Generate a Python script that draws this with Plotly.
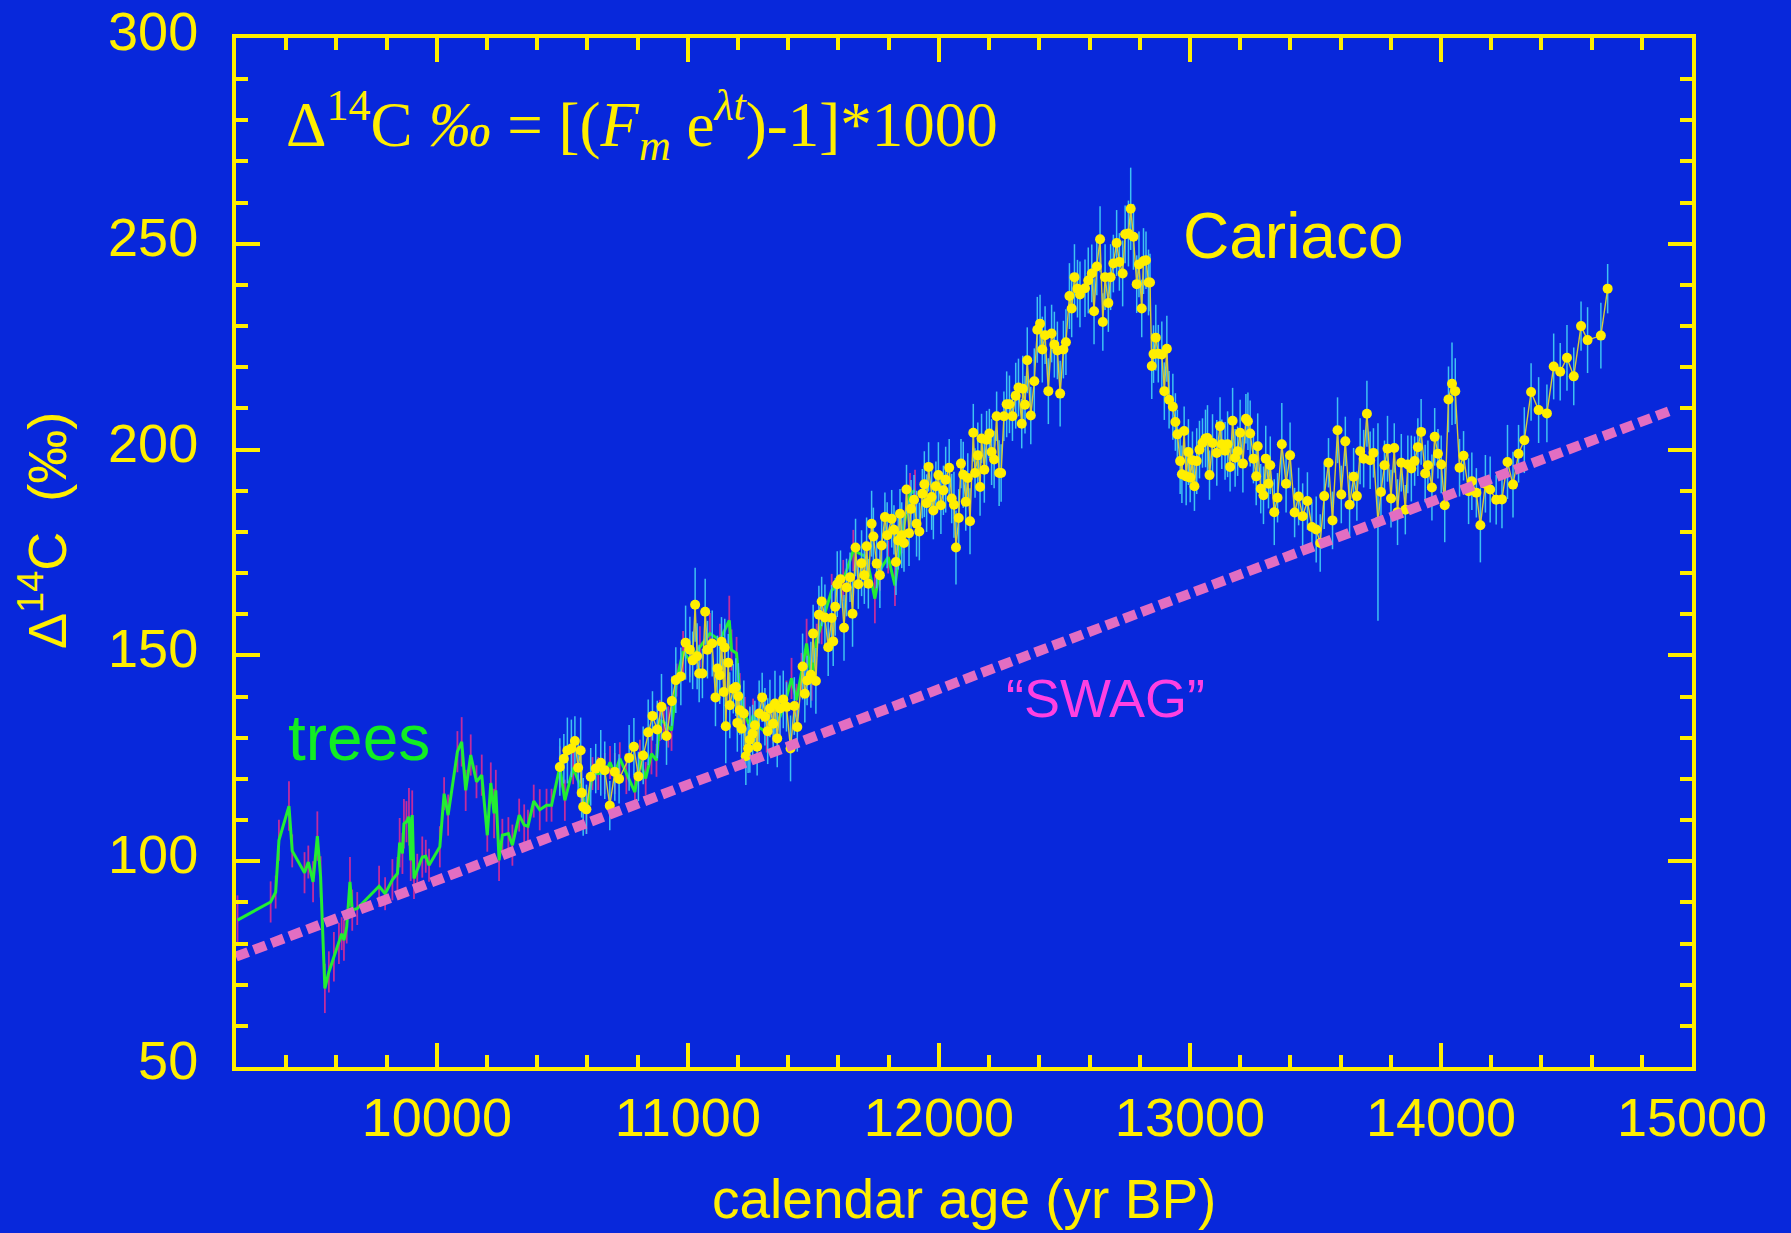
import plotly.graph_objects as go

# ---------------- data ----------------
# Tree-ring record (calendar age, Delta14C permil, 1-sigma)
TREE_AGE = [
    9206, 9338, 9358, 9371, 9411, 9424, 9473, 9488, 9507, 9524,
    9537, 9554, 9570, 9590, 9610, 9621, 9630, 9641, 9654, 9663,
    9683, 9770, 9794, 9823, 9843, 9852, 9863, 9869, 9879, 9889,
    9896, 9902, 9909, 9922, 9942, 9956, 9969, 10012, 10029, 10045,
    10082, 10099, 10115, 10135, 10158, 10179, 10201, 10215, 10228, 10235,
    10248, 10261, 10285, 10301, 10328, 10348, 10363, 10386, 10410, 10437,
    10457, 10490, 10510, 10543, 10576, 10596, 10620, 10643, 10669, 10690,
    10709, 10729, 10755, 10789, 10809, 10832, 10855, 10875, 10888, 10904,
    10922, 10935, 10955, 10981, 11008, 11048, 11088, 11128, 11165, 11174,
    11194, 11207, 11227, 11247, 11260, 11280, 11314, 11340, 11367, 11393,
    11413, 11433, 11453, 11473, 11493, 11513, 11533, 11573, 11619, 11659,
    11712, 11745, 11765, 11798, 11825, 11852, 11885, 11905,
]
TREE_D14C = [
    85.7, 90.1, 92.5, 105.1, 113.4, 102.5, 97.2, 99.8, 95.0, 106.1,
    96.2, 69.1, 73.1, 76.8, 80.0, 82.4, 80.8, 84.0, 95.0, 88.1,
    88.5, 93.9, 92.1, 95.5, 97.0, 104.5, 101.9, 109.1, 109.6, 110.8,
    100.2, 111.2, 95.8, 97.8, 101.0, 101.2, 99.0, 103.5, 116.4, 111.2,
    126.6, 129.0, 117.2, 125.8, 119.3, 120.9, 106.3, 119.0, 111.6, 117.2,
    100.2, 106.3, 106.7, 103.9, 111.2, 108.8, 108.5, 114.6, 112.5, 113.6,
    113.6, 122.9, 114.8, 122.7, 117.6, 111.6, 121.3, 121.3, 121.3, 124.0,
    121.3, 124.9, 121.3, 116.8, 124.5, 120.1, 126.1, 124.5, 134.2, 133.8,
    132.6, 131.8, 144.0, 150.9, 148.8, 152.1, 155.3, 153.7, 158.5, 151.3,
    150.5, 140.7, 135.9, 132.6, 135.5, 132.6, 131.4, 132.6, 135.1, 139.9,
    144.4, 139.1, 145.6, 152.9, 144.0, 153.7, 157.7, 165.8, 168.2, 175.5,
    173.9, 163.8, 170.7, 173.9, 167.0, 178.8, 189.3, 190.1,
]
TREE_ERR = [
    6, 5, 4, 5, 6, 4, 5, 4, 5, 6,
    5, 6, 5, 6, 5, 4, 5, 4, 6, 5,
    4, 5, 4, 5, 4, 6, 5, 6, 5, 7,
    5, 6, 5, 4, 5, 4, 4, 5, 4, 5,
    5, 6, 5, 5, 4, 5, 4, 5, 6, 5,
    5, 4, 4, 5, 4, 5, 4, 4, 5, 4,
    4, 5, 5, 4, 5, 5, 4, 4, 5, 4,
    5, 4, 5, 4, 5, 4, 5, 4, 5, 4,
    5, 5, 4, 5, 4, 5, 5, 4, 6, 5,
    4, 5, 4, 5, 4, 4, 5, 4, 5, 4,
    5, 4, 5, 6, 5, 4, 5, 4, 5, 5,
    4, 6, 5, 4, 5, 4, 5, 5,
]

# Cariaco Basin record (calendar age, Delta14C permil, 1-sigma)
CARIACO_AGE = [
    10490, 10506, 10520, 10536, 10550, 10563, 10573, 10577, 10583, 10596,
    10613, 10633, 10653, 10669, 10689, 10709, 10726, 10766, 10785, 10803,
    10822, 10842, 10859, 10878, 10895, 10915, 10936, 10952, 10972, 10991,
    11008, 11019, 11029, 11037, 11045, 11058, 11069, 11078, 11097, 11110,
    11118, 11127, 11134, 11143, 11147, 11151, 11161, 11167, 11181, 11191,
    11197, 11201, 11207, 11214, 11223, 11231, 11240, 11247, 11258, 11267,
    11276, 11284, 11296, 11307, 11318, 11327, 11340, 11347, 11356, 11367,
    11380, 11393, 11409, 11424, 11436, 11457, 11466, 11475, 11490, 11499,
    11510, 11522, 11533, 11546, 11559, 11573, 11579, 11587, 11595, 11608,
    11622, 11632, 11646, 11656, 11668, 11679, 11692, 11703, 11712, 11719,
    11732, 11739, 11752, 11765, 11772, 11785, 11794, 11812, 11821, 11829,
    11838, 11845, 11852, 11861, 11871, 11881, 11889, 11901, 11911, 11922,
    11934, 11942, 11951, 11959, 11971, 11978, 11988, 11998, 12008, 12018,
    12027, 12041, 12051, 12060, 12068, 12079, 12088, 12097, 12107, 12115,
    12124, 12137, 12144, 12155, 12164, 12170, 12181, 12190, 12201, 12210,
    12220, 12230, 12240, 12248, 12259, 12270, 12281, 12293, 12306, 12317,
    12330, 12334, 12343, 12352, 12366, 12380, 12392, 12403, 12412, 12423,
    12436, 12449, 12460, 12472, 12483, 12496, 12506, 12520, 12529, 12540,
    12552, 12562, 12582, 12595, 12609, 12618, 12629, 12642, 12653, 12662,
    12675, 12684, 12695, 12708, 12719, 12732, 12742, 12755, 12764, 12775,
    12788, 12797, 12808, 12815, 12825, 12835, 12841, 12848, 12855, 12864,
    12874, 12888, 12898, 12908, 12917, 12932, 12942, 12950, 12961, 12968,
    12977, 12985, 12994, 13001, 13010, 13018, 13027, 13038, 13050, 13062,
    13070, 13078, 13090, 13107, 13120, 13127, 13140, 13150, 13160, 13170,
    13180, 13190, 13200, 13211, 13223, 13231, 13240, 13253, 13264, 13270,
    13282, 13293, 13302, 13313, 13320, 13336, 13349, 13366, 13383, 13399,
    13417, 13433, 13449, 13468, 13486, 13503, 13519, 13535, 13552, 13568,
    13588, 13603, 13619, 13636, 13652, 13665, 13678, 13692, 13705, 13718,
    13731, 13749, 13761, 13775, 13787, 13801, 13814, 13827, 13842, 13858,
    13868, 13882, 13895, 13908, 13921, 13937, 13948, 13964, 13975, 13988,
    14001, 14015, 14030, 14044, 14057, 14074, 14090, 14110, 14123, 14141,
    14157, 14177, 14196, 14220, 14243, 14265, 14287, 14309, 14332, 14359,
    14389, 14422, 14449, 14475, 14502, 14529, 14558, 14584, 14637, 14664,
]
CARIACO_D14C = [
    122.9, 124.9, 126.9, 127.4, 129.2, 122.7, 126.9, 116.6, 113.2, 112.6,
    120.5, 122.5, 123.9, 122.1, 113.5, 121.7, 120.0, 125.1, 127.8, 120.6,
    125.7, 131.3, 135.3, 132.0, 137.5, 130.4, 138.9, 144.0, 144.9, 153.1,
    151.4, 148.8, 162.3, 149.8, 145.6, 145.6, 160.6, 151.4, 152.9, 139.8,
    146.8, 145.2, 153.3, 141.1, 151.9, 132.8, 148.2, 137.9, 141.9, 142.3,
    133.6, 140.1, 136.7, 132.2, 135.9, 125.5, 127.4, 129.5, 131.0, 133.0,
    127.8, 135.9, 139.8, 135.1, 131.6, 137.1, 133.4, 138.3, 129.8, 137.1,
    139.3, 137.5, 127.4, 137.7, 132.6, 147.3, 140.7, 143.9, 145.3, 155.3,
    143.8, 159.9, 163.1, 159.2, 152.0, 159.1, 153.4, 161.8, 167.3, 168.5,
    156.7, 166.5, 169.0, 160.1, 176.2, 167.3, 172.4, 169.5, 176.5, 167.4,
    182.0, 178.9, 172.3, 169.5, 176.7, 183.6, 179.2, 183.2, 180.5, 172.7,
    177.9, 184.4, 179.2, 177.3, 190.3, 179.7, 185.6, 187.8, 182.0, 180.1,
    189.3, 191.6, 187.0, 195.8, 188.5, 185.2, 191.1, 193.8, 186.5, 190.1,
    192.7, 195.6, 188.1, 186.6, 176.2, 183.4, 196.6, 193.9, 187.3, 193.1,
    182.6, 204.1, 194.3, 198.6, 190.9, 202.7, 195.1, 202.4, 203.9, 199.4,
    197.6, 208.1, 194.3, 194.3, 208.1, 211.0, 211.0, 208.1, 213.1, 215.1,
    206.3, 214.8, 210.9, 221.7, 208.3, 216.6, 229.1, 230.6, 224.3, 227.8,
    214.2, 228.2, 225.5, 224.1, 213.6, 224.3, 226.1, 237.3, 234.3, 241.9,
    239.1, 237.7, 239.2, 241.1, 242.8, 233.6, 244.5, 251.1, 231.0, 241.9,
    235.6, 241.9, 245.2, 250.2, 245.6, 242.8, 252.3, 252.5, 258.5, 251.7,
    240.2, 245.0, 234.3, 245.8, 246.0, 240.6, 240.6, 220.3, 223.2, 227.2,
    223.3, 223.1, 214.2, 224.5, 212.1, 210.4, 206.7, 203.7, 197.2, 194.0,
    204.5, 193.5, 199.4, 193.2, 197.4, 191.1, 197.2, 200.0, 201.6, 202.7,
    202.8, 193.8, 201.6, 199.2, 205.7, 201.3, 199.7, 201.3, 195.8, 207.0,
    198.0, 199.6, 204.1, 196.6, 207.5, 206.9, 203.9, 197.8, 193.5, 200.8,
    190.5, 188.9, 197.8, 191.7, 196.2, 184.8, 188.3, 201.3, 191.7, 198.6,
    184.7, 188.6, 183.8, 187.5, 181.2, 180.6, 177.3, 188.7, 196.8, 182.8,
    204.7, 189.1, 202.0, 186.6, 193.4, 188.7, 199.6, 197.8, 208.7, 197.4,
    199.2, 182.4, 189.7, 196.2, 200.2, 188.1, 200.4, 184.8, 196.8, 185.4,
    196.4, 195.4, 197.2, 200.6, 204.3, 194.2, 196.2, 190.8, 203.1, 199.0,
    196.4, 186.5, 212.2, 216.0, 214.2, 195.6, 198.5, 189.9, 192.3, 189.5,
    181.6, 191.7, 190.3, 187.8, 187.9, 197.0, 191.5, 199.0, 202.3, 214.0,
    209.6, 208.8, 220.2, 218.9, 222.3, 217.8, 230.0, 226.6, 227.7, 239.1,
]
CARIACO_ERR = [
    7, 6, 8, 7, 6, 7, 8, 6, 7, 6,
    7, 6, 8, 7, 6, 7, 6, 8, 7, 6,
    7, 8, 6, 7, 8, 7, 6, 8, 7, 9,
    8, 7, 9, 8, 7, 6, 8, 7, 8, 7,
    8, 7, 6, 8, 7, 9, 7, 8, 6, 7,
    7, 8, 6, 7, 8, 7, 6, 8, 7, 6,
    7, 8, 6, 7, 8, 7, 6, 8, 7, 8,
    7, 6, 8, 7, 6, 8, 7, 6, 8, 7,
    8, 7, 6, 8, 7, 8, 6, 7, 8, 7,
    8, 7, 6, 8, 7, 6, 8, 7, 7, 6,
    8, 7, 6, 8, 7, 6, 8, 7, 6, 8,
    7, 6, 8, 7, 6, 8, 7, 6, 8, 7,
    6, 8, 7, 6, 8, 7, 6, 8, 7, 6,
    8, 7, 6, 8, 9, 7, 6, 8, 7, 6,
    8, 7, 6, 8, 7, 6, 8, 7, 6, 8,
    7, 6, 8, 7, 6, 8, 7, 6, 8, 7,
    6, 8, 7, 8, 7, 8, 8, 7, 8, 7,
    8, 7, 8, 7, 8, 7, 8, 8, 7, 8,
    7, 8, 7, 8, 7, 8, 7, 8, 7, 8,
    7, 8, 7, 8, 7, 8, 7, 8, 10, 8,
    7, 8, 7, 8, 7, 8, 7, 8, 7, 8,
    7, 8, 7, 8, 7, 8, 7, 6, 8, 7,
    6, 7, 8, 6, 7, 6, 8, 7, 6, 7,
    8, 6, 7, 8, 7, 6, 7, 8, 6, 8,
    7, 6, 8, 7, 6, 7, 8, 6, 7, 8,
    6, 7, 8, 6, 7, 8, 6, 10, 7, 8,
    6, 7, 8, 7, 6, 8, 7, 8, 6, 7,
    8, 7, 6, 8, 7, 6, 8, 7, 8, 7,
    6, 24, 7, 6, 8, 7, 6, 8, 7, 6,
    7, 8, 6, 7, 8, 7, 6, 8, 7, 6,
    7, 9, 8, 10, 8, 7, 6, 8, 7, 6,
    9, 7, 8, 6, 7, 9, 8, 7, 8, 7,
    8, 7, 8, 7, 8, 7, 6, 8, 8, 6,
]

# Linear baseline ("SWAG")
SWAG_AGE = [9200, 14920]
SWAG_D14C = [76.8, 209.6]

# Axis ranges
X_RANGE = [9200, 15000]
Y_RANGE = [50, 300]

# ---------------- styling ----------------
BG = "#0828DB"
YELLOW = "#FFEE00"
SANS = "Liberation Sans, Arial, Helvetica, sans-serif"
SERIF = "Liberation Serif, Times New Roman, serif"

fig = go.Figure()

fig.add_trace(go.Scatter(
    x=TREE_AGE, y=TREE_D14C, mode="lines",
    line=dict(color="#22EE33", width=3),
    error_y=dict(type="data", array=TREE_ERR, visible=True,
                 color="#C22C9E", thickness=1.8, width=0),
    hoverinfo="skip", showlegend=False,
))

fig.add_trace(go.Scatter(
    x=CARIACO_AGE, y=CARIACO_D14C, mode="lines+markers",
    line=dict(color="#D6CC38", width=1.4),
    marker=dict(color=YELLOW, size=10, line=dict(width=0)),
    error_y=dict(type="data", array=CARIACO_ERR, visible=True,
                 color="#3EC2F2", thickness=1.5, width=0),
    hoverinfo="skip", showlegend=False,
))

fig.add_trace(go.Scatter(
    x=SWAG_AGE, y=SWAG_D14C, mode="lines",
    line=dict(color="#E26EC2", width=10, dash="13px,6px"),
    hoverinfo="skip", showlegend=False,
))

axis_common = dict(
    showline=True, linecolor=YELLOW, linewidth=4, mirror="ticks",
    ticks="inside", ticklen=24, tickwidth=4, tickcolor=YELLOW,
    showgrid=False, zeroline=False, ticklabeloverflow="allow",
    tickfont=dict(family=SANS, size=54, color=YELLOW),
)

fig.update_xaxes(
    range=X_RANGE, tick0=0, dtick=1000, tickformat="d",
    minor=dict(dtick=200, ticks="inside", ticklen=12, tickwidth=4,
               tickcolor=YELLOW, showgrid=False),
    ticklabelstandoff=0,
    **axis_common,
)
fig.update_yaxes(
    range=Y_RANGE, tick0=0, dtick=50,
    minor=dict(dtick=10, ticks="inside", ticklen=12, tickwidth=4,
               tickcolor=YELLOW, showgrid=False),
    ticklabelstandoff=23, ticklabelshift=-7,
    **axis_common,
)

annotations = [
    dict(text="calendar age (yr BP)", x=0.5, y=-0.128, xref="paper", yref="paper",
         xanchor="center", yanchor="middle", showarrow=False,
         font=dict(family=SANS, size=55, color=YELLOW)),
    dict(text="Δ<sup>14</sup>C  (‰)", x=-0.1325, y=0.521, xref="paper", yref="paper",
         xanchor="center", yanchor="middle", textangle=-90, showarrow=False,
         font=dict(family=SANS, size=54, color=YELLOW)),
    dict(text="Δ<sup>14</sup>C <i>‰</i> = [(<i>F<sub>m</sub></i> e<sup><i>λt</i></sup>)-1]*1000",
         x=0.0333, y=0.9145, xref="paper", yref="paper",
         xanchor="left", yanchor="middle", showarrow=False,
         font=dict(family=SERIF, size=63, color=YELLOW)),
    dict(text="Cariaco", x=0.7266, y=0.8076, xref="paper", yref="paper",
         xanchor="center", yanchor="middle", showarrow=False,
         font=dict(family=SANS, size=64, color=YELLOW)),
    dict(text="trees", x=0.0845, y=0.3197, xref="paper", yref="paper",
         xanchor="center", yanchor="middle", showarrow=False,
         font=dict(family=SANS, size=64, color="#11EE22")),
    dict(text="“SWAG”", x=0.5975, y=0.3586, xref="paper", yref="paper",
         xanchor="center", yanchor="middle", showarrow=False,
         font=dict(family=SANS, size=54, color="#FF40E2")),
]

fig.update_layout(
    width=1791, height=1233,
    paper_bgcolor=BG, plot_bgcolor=BG,
    margin=dict(l=236, r=99, t=38, b=166, autoexpand=False),
    annotations=annotations,
    showlegend=False,
)

fig.write_html("out.html", config={"displayModeBar": False})
